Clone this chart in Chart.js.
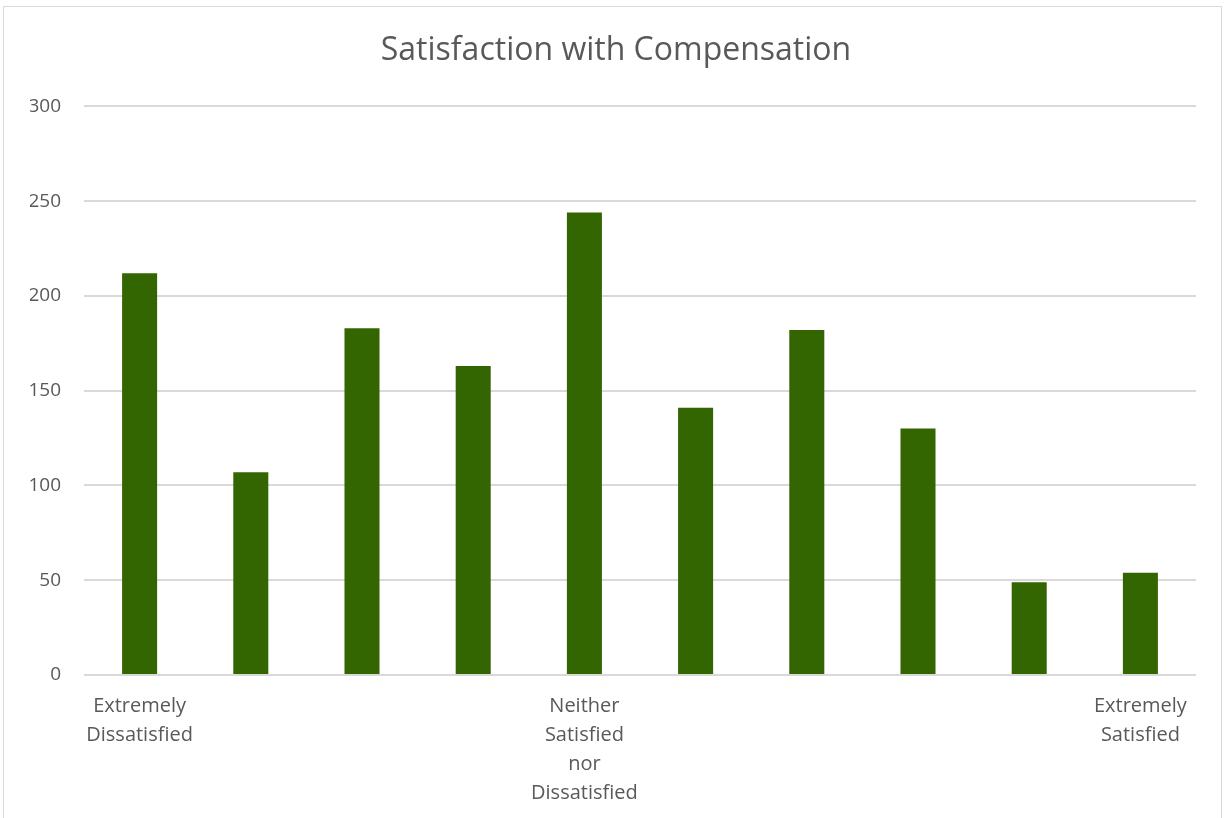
<!DOCTYPE html>
<html>
<head>
<meta charset="utf-8">
<script src="https://cdn.jsdelivr.net/npm/chart.js@4/dist/chart.umd.min.js"></script>
<style>
  html, body { margin: 0; padding: 0; background: #ffffff; overflow: hidden; }
  #wrap { position: relative; width: 1225px; height: 818px; }
  #frame { position: absolute; left: 3px; top: 6px; width: 1219px; height: 840px; border: 1px solid #d9d9d9; box-sizing: border-box; }
  canvas { position: absolute; left: 0; top: 0; }
</style>
</head>
<body>
<div id="wrap">
  <div id="frame"></div>
  <canvas id="chart" width="1225" height="818"></canvas>
</div>
<script>
// Response categories on a 10-point scale; only the anchors are labelled
const categories = [
  ['Extremely', 'Dissatisfied'], '', '', '',
  ['Neither', 'Satisfied', 'nor', 'Dissatisfied'],
  '', '', '', '',
  ['Extremely', 'Satisfied']
];
// Number of responses per category
const responses = [212, 107, 183, 163, 244, 141, 182, 130, 49, 54];
// Value axis ticks
const yTicks = [0, 50, 100, 150, 200, 250, 300];

const textColor = '#595959';
const fontFamily = "'Open Sans', 'Noto Sans', sans-serif";

new Chart(document.getElementById('chart'), {
  type: 'bar',
  data: {
    labels: categories,
    datasets: [{
      label: 'Responses',
      data: responses,
      backgroundColor: '#336600',
      borderWidth: 0,
      barPercentage: 0.315,
      categoryPercentage: 1.0
    }]
  },
  options: {
    responsive: false,
    animation: false,
    devicePixelRatio: 1,
    layout: { padding: { left: 30, right: 23, top: 0, bottom: 0 } },
    plugins: {
      legend: { display: false },
      tooltip: { enabled: false },
      title: {
        display: true,
        text: 'Satisfaction with Compensation',
        color: textColor,
        font: { family: fontFamily, size: 32, weight: 'normal' },
        padding: { top: 32, bottom: 36 }
      }
    },
    scales: {
      x: {
        grid: { display: false, drawTicks: false },
        border: { display: false },
        ticks: {
          color: textColor,
          font: { family: fontFamily, size: 20, lineHeight: 1.45 },
          padding: 17,
          maxRotation: 0,
          minRotation: 0,
          autoSkip: false
        },
        afterFit: (scale) => { scale.height = 143; }
      },
      y: {
        min: 0,
        max: 300,
        afterBuildTicks: (scale) => { scale.ticks = yTicks.map(v => ({ value: v })); },
        grid: { color: '#d9d9d9', lineWidth: 2, drawTicks: false },
        border: { display: false },
        ticks: {
          color: textColor,
          font: { family: fontFamily, size: 19 },
          padding: 23
        },
        afterFit: (scale) => { scale.width = 54; }
      },
      // empty right-hand gutter between the plot and the frame
      gutter: {
        type: 'linear',
        position: 'right',
        min: 0,
        max: 300,
        grid: { display: false, drawTicks: false },
        border: { display: false },
        ticks: { display: false },
        afterFit: (scale) => { scale.width = 6; }
      }
    }
  }
});
</script>
</body>
</html>
